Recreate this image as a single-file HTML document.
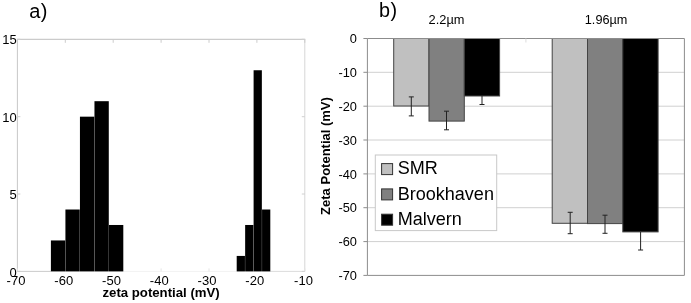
<!DOCTYPE html><html><head><meta charset="utf-8"><title>zeta potential</title>
<style>html,body{margin:0;padding:0;background:#fff}svg{display:block}text{font-family:"Liberation Sans",Arial,Helvetica,sans-serif;fill:#000}</style></head><body>
<svg width="691" height="303" viewBox="0 0 691 303">
<rect x="0" y="0" width="691" height="303" fill="#fff"/>
<path d="M17.4 271.4V39.3" fill="none" stroke="#c8c8c8" stroke-width="1"/>
<path d="M16.9 39.3H305.3" fill="none" stroke="#bebebe" stroke-width="1"/>
<path d="M304.8 39.3V271.4" fill="none" stroke="#d6d6d6" stroke-width="1"/>
<line x1="17.4" y1="271.4" x2="304.8" y2="271.4" stroke="#f2f2f2" stroke-width="1"/>
<line x1="17.4" y1="271.4" x2="51" y2="271.4" stroke="#cccccc" stroke-width="1"/>
<line x1="270" y1="271.4" x2="304.8" y2="271.4" stroke="#dddddd" stroke-width="1"/>
<line x1="17.4" y1="39.3" x2="17.4" y2="42.8" stroke="#cccccc" stroke-width="1"/>
<line x1="17.4" y1="271.4" x2="17.4" y2="268.4" stroke="#e4e4e4" stroke-width="1"/>
<text x="16.00" y="284.8" font-size="13" text-anchor="middle">-70</text>
<line x1="65.3" y1="39.3" x2="65.3" y2="42.8" stroke="#cccccc" stroke-width="1"/>
<line x1="65.3" y1="271.4" x2="65.3" y2="268.4" stroke="#e4e4e4" stroke-width="1"/>
<text x="63.75" y="284.8" font-size="13" text-anchor="middle">-60</text>
<line x1="113.2" y1="39.3" x2="113.2" y2="42.8" stroke="#cccccc" stroke-width="1"/>
<line x1="113.2" y1="271.4" x2="113.2" y2="268.4" stroke="#e4e4e4" stroke-width="1"/>
<text x="111.50" y="284.8" font-size="13" text-anchor="middle">-50</text>
<line x1="161.1" y1="39.3" x2="161.1" y2="42.8" stroke="#cccccc" stroke-width="1"/>
<line x1="161.1" y1="271.4" x2="161.1" y2="268.4" stroke="#e4e4e4" stroke-width="1"/>
<text x="159.25" y="284.8" font-size="13" text-anchor="middle">-40</text>
<line x1="209.0" y1="39.3" x2="209.0" y2="42.8" stroke="#cccccc" stroke-width="1"/>
<line x1="209.0" y1="271.4" x2="209.0" y2="268.4" stroke="#e4e4e4" stroke-width="1"/>
<text x="207.00" y="284.8" font-size="13" text-anchor="middle">-30</text>
<line x1="256.9" y1="39.3" x2="256.9" y2="42.8" stroke="#cccccc" stroke-width="1"/>
<line x1="256.9" y1="271.4" x2="256.9" y2="268.4" stroke="#e4e4e4" stroke-width="1"/>
<text x="254.75" y="284.8" font-size="13" text-anchor="middle">-20</text>
<line x1="304.8" y1="39.3" x2="304.8" y2="42.8" stroke="#cccccc" stroke-width="1"/>
<line x1="304.8" y1="271.4" x2="304.8" y2="268.4" stroke="#e4e4e4" stroke-width="1"/>
<text x="303.50" y="284.8" font-size="13" text-anchor="middle">-10</text>
<line x1="17.4" y1="271.4" x2="20.4" y2="271.4" stroke="#d0d0d0" stroke-width="1"/>
<line x1="304.8" y1="271.4" x2="301.8" y2="271.4" stroke="#d0d0d0" stroke-width="1"/>
<text x="16.8" y="276.5" font-size="13" text-anchor="end">0</text>
<line x1="17.4" y1="194.0" x2="20.4" y2="194.0" stroke="#d0d0d0" stroke-width="1"/>
<line x1="304.8" y1="194.0" x2="301.8" y2="194.0" stroke="#d0d0d0" stroke-width="1"/>
<text x="16.8" y="199.1" font-size="13" text-anchor="end">5</text>
<line x1="17.4" y1="116.7" x2="20.4" y2="116.7" stroke="#d0d0d0" stroke-width="1"/>
<line x1="304.8" y1="116.7" x2="301.8" y2="116.7" stroke="#d0d0d0" stroke-width="1"/>
<text x="16.8" y="121.8" font-size="13" text-anchor="end">10</text>
<line x1="17.4" y1="39.3" x2="20.4" y2="39.3" stroke="#d0d0d0" stroke-width="1"/>
<line x1="304.8" y1="39.3" x2="301.8" y2="39.3" stroke="#d0d0d0" stroke-width="1"/>
<text x="16.8" y="44.4" font-size="13" text-anchor="end">15</text>
<rect x="50.90" y="240.45" width="14.32" height="30.95" fill="#000"/>
<rect x="65.42" y="209.51" width="14.32" height="61.89" fill="#000"/>
<rect x="79.94" y="116.67" width="14.32" height="154.73" fill="#000"/>
<rect x="94.46" y="101.19" width="14.32" height="170.21" fill="#000"/>
<rect x="108.98" y="224.98" width="14.32" height="46.42" fill="#000"/>
<rect x="236.70" y="255.93" width="8.25" height="15.47" fill="#000"/>
<rect x="245.15" y="224.98" width="8.25" height="46.42" fill="#000"/>
<rect x="253.60" y="70.25" width="8.25" height="201.15" fill="#000"/>
<rect x="262.05" y="209.51" width="8.25" height="61.89" fill="#000"/>
<text x="161.1" y="296.8" font-size="13.2" font-weight="bold" text-anchor="middle">zeta potential (mV)</text>
<text x="29.2" y="17.8" font-size="20" letter-spacing="0.5">a)</text>
<rect x="367.4" y="38.5" width="317.0" height="236.89999999999998" fill="#fff" stroke="none"/>
<line x1="367.4" y1="72.3" x2="684.4" y2="72.3" stroke="#d0d0d0" stroke-width="1"/>
<line x1="367.4" y1="106.2" x2="684.4" y2="106.2" stroke="#d0d0d0" stroke-width="1"/>
<line x1="367.4" y1="140.0" x2="684.4" y2="140.0" stroke="#d0d0d0" stroke-width="1"/>
<line x1="367.4" y1="173.9" x2="684.4" y2="173.9" stroke="#d0d0d0" stroke-width="1"/>
<line x1="367.4" y1="207.7" x2="684.4" y2="207.7" stroke="#d0d0d0" stroke-width="1"/>
<line x1="367.4" y1="241.6" x2="684.4" y2="241.6" stroke="#d0d0d0" stroke-width="1"/>
<line x1="363.4" y1="38.5" x2="367.4" y2="38.5" stroke="#8c8c8c" stroke-width="1"/>
<text x="356.9" y="43.1" font-size="12.8" text-anchor="end">0</text>
<line x1="363.4" y1="72.3" x2="367.4" y2="72.3" stroke="#8c8c8c" stroke-width="1"/>
<text x="356.9" y="76.9" font-size="12.8" text-anchor="end">-10</text>
<line x1="363.4" y1="106.2" x2="367.4" y2="106.2" stroke="#8c8c8c" stroke-width="1"/>
<text x="356.9" y="110.8" font-size="12.8" text-anchor="end">-20</text>
<line x1="363.4" y1="140.0" x2="367.4" y2="140.0" stroke="#8c8c8c" stroke-width="1"/>
<text x="356.9" y="144.6" font-size="12.8" text-anchor="end">-30</text>
<line x1="363.4" y1="173.9" x2="367.4" y2="173.9" stroke="#8c8c8c" stroke-width="1"/>
<text x="356.9" y="178.5" font-size="12.8" text-anchor="end">-40</text>
<line x1="363.4" y1="207.7" x2="367.4" y2="207.7" stroke="#8c8c8c" stroke-width="1"/>
<text x="356.9" y="212.3" font-size="12.8" text-anchor="end">-50</text>
<line x1="363.4" y1="241.6" x2="367.4" y2="241.6" stroke="#8c8c8c" stroke-width="1"/>
<text x="356.9" y="246.2" font-size="12.8" text-anchor="end">-60</text>
<line x1="363.4" y1="275.4" x2="367.4" y2="275.4" stroke="#8c8c8c" stroke-width="1"/>
<text x="356.9" y="280.0" font-size="12.8" text-anchor="end">-70</text>
<rect x="393.7" y="38.5" width="35.3" height="67.5" fill="#c0c0c0" stroke="#444" stroke-width="1"/>
<rect x="429.0" y="38.5" width="35.3" height="82.6" fill="#808080" stroke="#444" stroke-width="1"/>
<rect x="464.3" y="38.5" width="35.3" height="57.5" fill="#000000" stroke="#444" stroke-width="1"/>
<rect x="552.2" y="38.5" width="35.3" height="184.8" fill="#c0c0c0" stroke="#444" stroke-width="1"/>
<rect x="587.5" y="38.5" width="35.3" height="185.1" fill="#808080" stroke="#444" stroke-width="1"/>
<rect x="622.8" y="38.5" width="35.3" height="193.4" fill="#000000" stroke="#444" stroke-width="1"/>
<line x1="367.4" y1="38.5" x2="684.4" y2="38.5" stroke="#8c8c8c" stroke-width="1"/>
<line x1="367.4" y1="38.5" x2="367.4" y2="275.4" stroke="#8c8c8c" stroke-width="1"/>
<line x1="684.4" y1="38.5" x2="684.4" y2="275.4" stroke="#8c8c8c" stroke-width="1"/>
<line x1="367.4" y1="275.4" x2="684.4" y2="275.4" stroke="#8c8c8c" stroke-width="1"/>
<line x1="525.9" y1="38.5" x2="525.9" y2="42.5" stroke="#dcdcdc" stroke-width="1"/>
<path d="M411.3 96.9V115.9M408.8 96.9H413.8M408.8 115.9H413.8" stroke="#222" stroke-width="1" fill="none"/>
<path d="M446.5 111.2V129.8M444.0 111.2H449.0M444.0 129.8H449.0" stroke="#222" stroke-width="1" fill="none"/>
<path d="M482 95.5V104.5M479.5 104.5H484.5" stroke="#222" stroke-width="1" fill="none"/>
<path d="M570.2 212.3V233.7M567.7 212.3H572.7M567.7 233.7H572.7" stroke="#222" stroke-width="1" fill="none"/>
<path d="M605 215.2V233.3M602.5 215.2H607.5M602.5 233.3H607.5" stroke="#222" stroke-width="1" fill="none"/>
<path d="M640.6 232V250M638.1 250H643.1" stroke="#222" stroke-width="1" fill="none"/>
<rect x="375.3" y="155" width="121.4" height="75.6" fill="#fff" stroke="#c8c8c8" stroke-width="1"/>
<rect x="381.6" y="163.6" width="11" height="11" fill="#c0c0c0" stroke="#333" stroke-width="1"/>
<text x="397.7" y="174.2" font-size="18.05">SMR</text>
<rect x="381.6" y="188.9" width="11" height="11" fill="#808080" stroke="#333" stroke-width="1"/>
<text x="397.7" y="199.5" font-size="18.05">Brookhaven</text>
<rect x="381.6" y="214.2" width="11" height="11" fill="#000" stroke="#333" stroke-width="1"/>
<text x="397.7" y="224.8" font-size="18.05">Malvern</text>
<text x="428.6" y="24.1" font-size="12.8">2.2µm</text>
<text x="584.8" y="24.1" font-size="12.7">1.96µm</text>
<text x="379.0" y="16.8" font-size="19.8" letter-spacing="0.5">b)</text>
<text transform="translate(330,156) rotate(-90)" font-size="13" font-weight="bold" text-anchor="middle">Zeta Potential (mV)</text>
</svg></body></html>
